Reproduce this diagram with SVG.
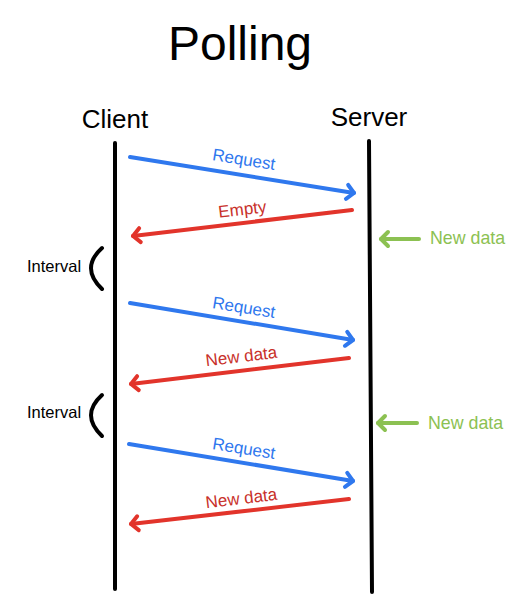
<svg xmlns="http://www.w3.org/2000/svg" width="522" height="612" viewBox="0 0 522 612">
<style>
text{font-family:"Liberation Sans",Arial,sans-serif}
.title{font-size:48px;fill:#000}
.actor{font-size:26px;fill:#000}
.life{stroke:#000;stroke-width:4;stroke-linecap:round;fill:none}
.req{stroke:#2f78ee;stroke-width:4;stroke-linecap:round;fill:none}
.resp{stroke:#e2342b;stroke-width:4;stroke-linecap:round;fill:none}
.nd{stroke:#8cc152;stroke-width:4;stroke-linecap:round;fill:none}
.reqt{font-size:17px;fill:#2f78ee}
.respt{font-size:17px;fill:#c8302a}
.ndt{font-size:17.8px;fill:#8cc152}
.intt{font-size:16.5px;fill:#000}
.br{stroke:#000;stroke-width:4;stroke-linecap:round;fill:none}
</style>
<defs>
<marker id="hb" markerUnits="userSpaceOnUse" markerWidth="20" markerHeight="20" refX="10" refY="10" orient="auto" viewBox="0 0 20 20"><path d="M3,3 L10,10 L3,17" stroke="#2f78ee" stroke-width="4" fill="none" stroke-linecap="round" stroke-linejoin="round"/></marker>
<marker id="hr" markerUnits="userSpaceOnUse" markerWidth="20" markerHeight="20" refX="10" refY="10" orient="auto" viewBox="0 0 20 20"><path d="M3,3 L10,10 L3,17" stroke="#e2342b" stroke-width="4" fill="none" stroke-linecap="round" stroke-linejoin="round"/></marker>
<marker id="hg" markerUnits="userSpaceOnUse" markerWidth="20" markerHeight="20" refX="10" refY="10" orient="auto" viewBox="0 0 20 20"><path d="M3,3 L10,10 L3,17" stroke="#8cc152" stroke-width="4" fill="none" stroke-linecap="round" stroke-linejoin="round"/></marker>
</defs>
<rect width="522" height="612" fill="#fff"/>
<text class="title" x="240" y="60" text-anchor="middle">Polling</text>
<g id="client">
<text class="actor" x="115" y="128" text-anchor="middle">Client</text>
<line class="life" x1="115" y1="143" x2="115" y2="589"/>
</g>
<g id="server">
<text class="actor" x="369" y="126" text-anchor="middle">Server</text>
<line class="life" x1="369" y1="141" x2="372" y2="592"/>
</g>
<g id="interval1">
<text class="intt" x="27" y="272">Interval</text>
<path class="br" d="M102,248 Q80,268 102,289"/>
</g>
<g id="interval2">
<text class="intt" x="27" y="418">Interval</text>
<path class="br" d="M102,395 Q80,415 102,436"/>
</g>
<g id="connectors">
<line class="req" x1="130" y1="157" x2="354" y2="193" marker-end="url(#hb)"/>
<text class="reqt" transform="translate(243,165) rotate(9.2)" text-anchor="middle">Request</text>
<line class="resp" x1="352" y1="210" x2="133" y2="236" marker-end="url(#hr)"/>
<text class="respt" transform="translate(243,215) rotate(-6.8)" text-anchor="middle">Empty</text>
<line class="nd" x1="419" y1="239" x2="381" y2="239" marker-end="url(#hg)"/>
<text class="ndt" x="430" y="244">New data</text>
<line class="req" x1="130" y1="303" x2="353" y2="340" marker-end="url(#hb)"/>
<text class="reqt" transform="translate(243,313) rotate(9.2)" text-anchor="middle">Request</text>
<line class="resp" x1="349" y1="358" x2="131" y2="384" marker-end="url(#hr)"/>
<text class="respt" transform="translate(242,362) rotate(-6.8)" text-anchor="middle">New data</text>
<line class="nd" x1="417" y1="423" x2="378" y2="423" marker-end="url(#hg)"/>
<text class="ndt" x="428" y="429">New data</text>
<line class="req" x1="129" y1="444" x2="353" y2="481" marker-end="url(#hb)"/>
<text class="reqt" transform="translate(243,454) rotate(9.2)" text-anchor="middle">Request</text>
<line class="resp" x1="349" y1="499" x2="131" y2="524" marker-end="url(#hr)"/>
<text class="respt" transform="translate(242,504) rotate(-6.8)" text-anchor="middle">New data</text>
</g>
</svg>
